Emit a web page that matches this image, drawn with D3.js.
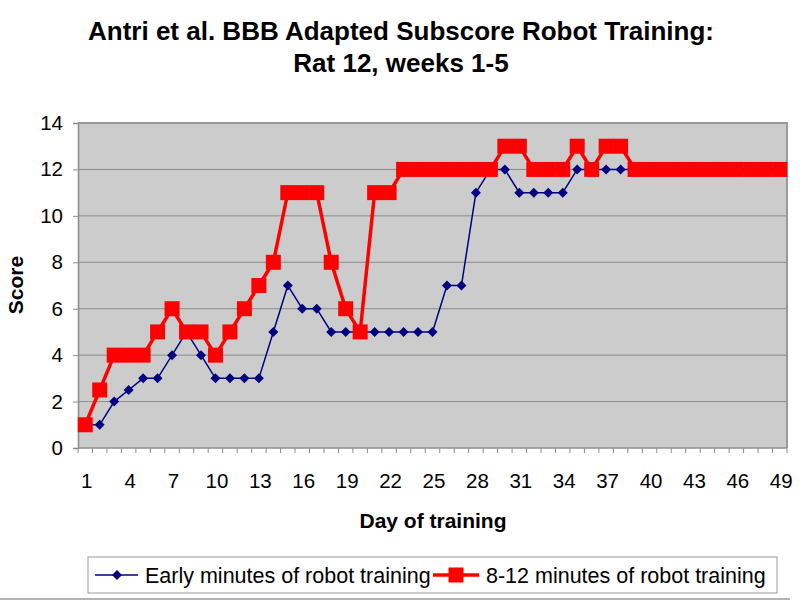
<!DOCTYPE html>
<html>
<head>
<meta charset="utf-8">
<script src="https://cdn.jsdelivr.net/npm/d3@7"></script>
<style>
  html, body { margin: 0; padding: 0; background: #fff; }
  svg { display: block; font-family: Arial, "Liberation Sans", sans-serif; }
</style>
</head>
<body>
<div id="chart"></div>
<script>
const days = [1, 2, 3, 4, 5, 6, 7, 8, 9, 10, 11, 12, 13, 14, 15, 16, 17, 18, 19, 20,
  21, 22, 23, 24, 25, 26, 27, 28, 29, 30, 31, 32, 33, 34, 35, 36, 37, 38, 39, 40,
  41, 42, 43, 44, 45, 46, 47, 48, 49];
const dayLabels = [1, 4, 7, 10, 13, 16, 19, 22, 25, 28, 31, 34, 37, 40, 43, 46, 49];
const early = [1, 1, 2, 2.5, 3, 3, 4, 5, 4, 3, 3, 3, 3, 5, 7, 6, 6, 5, 5, 5,
  5, 5, 5, 5, 5, 7, 7, 11, 12, 12, 11, 11, 11, 11, 12, 12, 12, 12, 12, 12,
  12, 12, 12, 12, 12, 12, 12, 12, 12];
const late = [1, 2.5, 4, 4, 4, 5, 6, 5, 5, 4, 5, 6, 7, 8, 11, 11, 11, 8, 6, 5,
  11, 11, 12, 12, 12, 12, 12, 12, 12, 13, 13, 12, 12, 12, 13, 12, 13, 13, 12, 12,
  12, 12, 12, 12, 12, 12, 12, 12, 12];
const yTicks = [0, 2, 4, 6, 8, 10, 12, 14];
const seriesNames = ["Early minutes of robot training", "8-12 minutes of robot training"];

const W = 800, H = 602;
const plot = { left: 78, right: 787, top: 123, bottom: 448 };

const svg = d3.select("#chart").append("svg")
  .attr("width", W)
  .attr("height", H);

const x = d3.scaleBand()
  .domain(days)
  .range([plot.left, plot.right])
  .padding(0);
const y = d3.scaleLinear()
  .domain([0, 14])
  .range([plot.bottom, plot.top]);
const cx = d => x(d) + x.bandwidth() / 2;

// plot background
svg.append("rect")
  .attr("x", plot.left).attr("y", plot.top)
  .attr("width", plot.right - plot.left)
  .attr("height", plot.bottom - plot.top)
  .attr("fill", "#cccccc");

// gridlines
svg.append("g")
  .selectAll("line")
  .data(yTicks.filter(t => t > 0 && t < 14))
  .join("line")
  .attr("x1", plot.left).attr("x2", plot.right)
  .attr("y1", d => y(d)).attr("y2", d => y(d))
  .attr("stroke", "#8c8c8c")
  .attr("stroke-width", 1);

// plot border (top/right)
svg.append("path")
  .attr("d", `M${plot.left},${plot.top}H${plot.right}V${plot.bottom}`)
  .attr("fill", "none")
  .attr("stroke", "#9a9a9a")
  .attr("stroke-width", 2);

// y axis
const yAxis = svg.append("g")
  .attr("transform", `translate(${plot.left},0)`)
  .call(d3.axisLeft(y).tickValues(yTicks).tickSize(5).tickPadding(10).tickFormat(d3.format("d")));
yAxis.select(".domain").attr("stroke", "#8c8c8c").attr("stroke-width", 1.5);
yAxis.selectAll(".tick line").attr("stroke", "#8c8c8c");
yAxis.selectAll(".tick text")
  .attr("font-size", 20.5)
  .attr("font-family", "Arial, 'Liberation Sans', sans-serif")
  .attr("fill", "#000");

// x axis: ticks between categories, labels every 3rd day
const xg = svg.append("g");
xg.append("line")
  .attr("x1", plot.left).attr("x2", plot.right)
  .attr("y1", plot.bottom).attr("y2", plot.bottom)
  .attr("stroke", "#8c8c8c").attr("stroke-width", 1.5);
xg.selectAll("line.tk")
  .data(days.concat(["end"]))
  .join("line")
  .attr("class", "tk")
  .attr("x1", d => d === "end" ? plot.right : x(d))
  .attr("x2", d => d === "end" ? plot.right : x(d))
  .attr("y1", plot.bottom).attr("y2", plot.bottom + 5)
  .attr("stroke", "#8c8c8c");
xg.selectAll("text")
  .data(dayLabels)
  .join("text")
  .attr("x", d => cx(d) + 1.5)
  .attr("y", 488)
  .attr("text-anchor", "middle")
  .attr("font-size", 20.5)
  .text(d => d);

// axis titles
svg.append("text")
  .attr("x", 433).attr("y", 528)
  .attr("text-anchor", "middle")
  .attr("font-size", 21).attr("font-weight", "bold")
  .text("Day of training");
svg.append("text")
  .attr("transform", "translate(23,285) rotate(-90)")
  .attr("text-anchor", "middle")
  .attr("font-size", 21).attr("font-weight", "bold")
  .text("Score");

// title
svg.append("text")
  .attr("x", 401).attr("y", 40)
  .attr("text-anchor", "middle")
  .attr("font-size", 26).attr("font-weight", "bold")
  .text("Antri et al. BBB Adapted Subscore Robot Training:");
svg.append("text")
  .attr("x", 401).attr("y", 72)
  .attr("text-anchor", "middle")
  .attr("font-size", 26).attr("font-weight", "bold")
  .text("Rat 12, weeks 1-5");

const diamond = r => `M0,${-r}L${r},0L0,${r}L${-r},0Z`;
const sq = 15;

// series
const line = d3.line().x(d => cx(d.day)).y(d => y(d.v));
const earlyData = days.map((d, i) => ({ day: d, v: early[i] }));
const lateData = days.map((d, i) => ({ day: d, v: late[i] }));

svg.append("path")
  .datum(earlyData)
  .attr("d", line)
  .attr("fill", "none")
  .attr("stroke", "#000080")
  .attr("stroke-width", 1.5);
svg.append("g")
  .selectAll("path")
  .data(earlyData)
  .join("path")
  .attr("transform", d => `translate(${cx(d.day)},${y(d.v)})`)
  .attr("d", diamond(5))
  .attr("fill", "#000080");

svg.append("path")
  .datum(lateData)
  .attr("d", line)
  .attr("fill", "none")
  .attr("stroke", "#ff0000")
  .attr("stroke-width", 3.5);
svg.append("g")
  .selectAll("rect")
  .data(lateData)
  .join("rect")
  .attr("x", d => cx(d.day) - sq / 2)
  .attr("y", d => y(d.v) - sq / 2)
  .attr("width", sq).attr("height", sq)
  .attr("fill", "#ff0000");

// legend
const lg = svg.append("g");
lg.append("rect")
  .attr("x", 88).attr("y", 557)
  .attr("width", 689).attr("height", 36)
  .attr("fill", "#fff")
  .attr("stroke", "#9a9a9a").attr("stroke-width", 1);
const legendItems = [
  { name: seriesNames[0], x0: 95, x1: 138, mid: 117, tx: 145 },
  { name: seriesNames[1], x0: 433, x1: 479, mid: 456, tx: 486 }
];
legendItems.forEach((it, i) => {
  lg.append("line")
    .attr("x1", it.x0).attr("x2", it.x1)
    .attr("y1", 575).attr("y2", 575)
    .attr("stroke", i === 0 ? "#000080" : "#ff0000")
    .attr("stroke-width", i === 0 ? 1.5 : 3.5);
  if (i === 0) {
    lg.append("path")
      .attr("transform", `translate(${it.mid},575)`)
      .attr("d", diamond(5))
      .attr("fill", "#000080");
  } else {
    lg.append("rect")
      .attr("x", it.mid - sq / 2).attr("y", 575 - sq / 2)
      .attr("width", sq).attr("height", sq)
      .attr("fill", "#ff0000");
  }
  lg.append("text")
    .attr("x", it.tx).attr("y", 583)
    .attr("font-size", 21.5)
    .text(it.name);
});

// chart area bottom border
svg.append("line")
  .attr("x1", 0).attr("x2", 790)
  .attr("y1", 599).attr("y2", 599)
  .attr("stroke", "#9a9a9a").attr("stroke-width", 1.5);
</script>
</body>
</html>
